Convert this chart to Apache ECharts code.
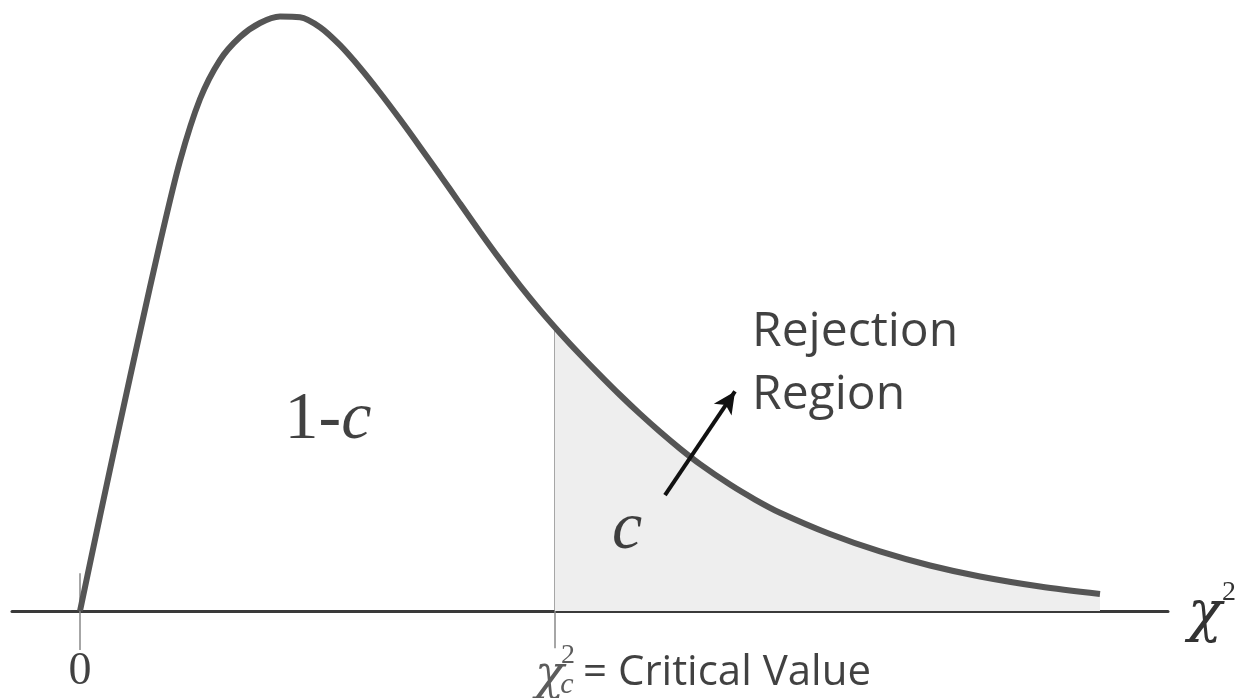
<!DOCTYPE html>
<html>
<head>
<meta charset="utf-8">
<script src="https://cdn.jsdelivr.net/npm/echarts@6/dist/echarts.min.js"></script>
<style>
  html, body { margin: 0; padding: 0; background: #fff; }
  #chart { width: 1239px; height: 698px; }
</style>
</head>
<body>
<div id="chart"></div>
<script>
// curve (x = chi-square value, y = density, arbitrary units)
const curveX = [0, 0.4, 0.8, 1.2, 1.6, 2.0, 2.4, 2.8, 3.2, 3.6, 4.0, 4.4, 4.8, 5.2, 5.6, 6.0, 6.4, 6.8, 7.2, 7.6,
  8.0, 8.4, 8.8, 9.2, 9.6, 10.0, 10.4, 10.8, 11.2, 11.6, 12.0, 12.4, 13.0, 13.5, 14.0, 15.0, 16.0, 17.0, 18.0,
  19.2, 20.4];
const curveY = [0, 15.83, 31.33, 46.5, 61.33, 75.0, 85.33, 91.83, 95.67, 98.0, 99.08, 98.97, 97.3, 94.3, 90.55,
  86.38, 81.95, 77.35, 72.65, 67.9, 63.18, 58.6, 54.23, 50.15, 46.35, 42.75, 39.32, 36.0, 32.85, 29.87, 27.07,
  24.48, 21.07, 18.58, 16.38, 12.83, 9.92, 7.58, 5.75, 4.08, 2.83];

const criticalValue = 9.5;

// little vertical marks at 0 and at the critical value: [x, yTop, yBottom]
const tickMarks = [
  [0, 6.3, -6.5],
  [criticalValue, 47.2, -6.2]
];

// arrow from the "c" area to the "Rejection Region" text
const arrowFrom = [11.7, 19.3];
const arrowTo = [13.1, 36.6];

// text pieces: [x, y, text, style]
const textItems = [
  [0, -10.2, '0', 'tex'],
  [4.96, 31.8, '{tex|1-}{texIt|c}', 'big'],
  [10.94, 13.4, '{texIt|c}', 'big'],
  [13.44, 41.2, 'Rejection\nRegion', 'sans'],
  [9.39, -11.0, 'χ', 'chiMid'],
  [9.76, -7.4, '2', 'sup'],
  [9.74, -12.4, 'c', 'subIt'],
  [10.06, -10.4, '= Critical Value', 'sansLeft']
];

const axisName = '{chi|χ}{sup|2}';

const chart = echarts.init(document.getElementById('chart'));

const curveData = curveX.map((x, i) => [x, curveY[i]]);
const shadeFrom = (criticalValue - curveX[0]) / (curveX[curveX.length - 1] - curveX[0]);

const ink = '#111';
const labelStyles = {
  tex: { fontFamily: 'Liberation Serif', fontSize: 46, color: ink, align: 'center', verticalAlign: 'middle' },
  big: {
    align: 'center', verticalAlign: 'middle',
    rich: {
      tex: { fontFamily: 'Liberation Serif', fontSize: 68, color: ink },
      texIt: { fontFamily: 'Liberation Serif', fontStyle: 'italic', fontSize: 68, color: ink }
    }
  },
  sans: { fontFamily: 'Open Sans', fontSize: 48, lineHeight: 63, color: ink, align: 'left', verticalAlign: 'middle' },
  sansLeft: { fontFamily: 'Open Sans', fontSize: 42, color: ink, align: 'left', verticalAlign: 'middle' },
  chiMid: { fontFamily: 'DejaVu Serif', fontStyle: 'italic', fontSize: 48, color: '#333', align: 'center', verticalAlign: 'middle' },
  sup: { fontFamily: 'Liberation Serif', fontSize: 28, color: '#333', align: 'center', verticalAlign: 'middle' },
  subIt: { fontFamily: 'Liberation Serif', fontStyle: 'italic', fontSize: 30, color: '#333', align: 'center', verticalAlign: 'middle' }
};

const series = [];

tickMarks.forEach(t => {
  series.push({
    type: 'line',
    data: [[t[0], t[1]], [t[0], t[2]]],
    symbol: 'none',
    lineStyle: { color: '#888', width: 1.5 },
    z: 1,
    silent: true
  });
});

series.push({
  name: 'chi2',
  type: 'line',
  data: curveData,
  smooth: 0.3,
  symbol: 'none',
  lineStyle: { color: '#555', width: 6 },
  areaStyle: {
    opacity: 1,
    color: new echarts.graphic.LinearGradient(0, 0, 1, 0, [
      { offset: 0, color: 'rgba(238,238,238,0)' },
      { offset: shadeFrom, color: 'rgba(238,238,238,0)' },
      { offset: shadeFrom, color: '#eeeeee' },
      { offset: 1, color: '#eeeeee' }
    ])
  },
  z: 2,
  silent: true
});

series.push({
  type: 'scatter',
  symbolSize: 0,
  clip: false,
  silent: true,
  z: 5,
  data: textItems.map(t => ({
    value: [t[0], t[1]],
    label: Object.assign({ show: true, position: 'inside', formatter: t[2] }, labelStyles[t[3]])
  })),
  markLine: {
    silent: true,
    symbol: ['none', 'arrow'],
    symbolSize: [16, 22],
    label: { show: false },
    lineStyle: { color: '#111', width: 4, type: 'solid' },
    data: [[{ coord: arrowFrom }, { coord: arrowTo }]]
  }
});

chart.setOption({
  animation: false,
  backgroundColor: '#fff',
  grid: { left: 12, right: 71, top: 11, bottom: 3 },
  xAxis: {
    type: 'value',
    min: -1.36,
    max: 21.76,
    axisLine: { onZero: true, lineStyle: { color: '#3a3a3a', width: 3 } },
    axisTick: { show: false },
    axisLabel: { show: false },
    splitLine: { show: false },
    name: axisName,
    nameLocation: 'end',
    nameGap: 20,
    nameTextStyle: {
      verticalAlign: 'middle',
      rich: {
        chi: { fontFamily: 'DejaVu Serif', fontStyle: 'italic', fontSize: 56, color: '#333', padding: [8, 0, 0, 0] },
        sup: { fontFamily: 'Liberation Serif', fontSize: 28, color: '#333', verticalAlign: 'top', padding: [0, 0, 12, 0] }
      }
    }
  },
  yAxis: {
    type: 'value',
    min: -14,
    max: 100,
    show: false,
    splitLine: { show: false }
  },
  series: series
});
</script>
</body>
</html>
